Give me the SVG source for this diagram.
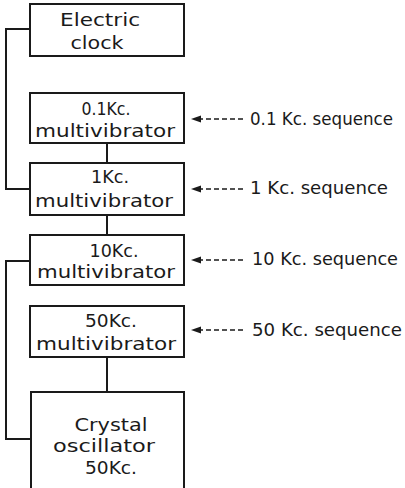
<svg xmlns="http://www.w3.org/2000/svg" width="405" height="488" viewBox="0 0 405 488">
<style>
.box{fill:#fff;stroke:#1a1a1a;stroke-width:2}
.wire{fill:none;stroke:#1a1a1a;stroke-width:2}
.dash{fill:none;stroke:#1a1a1a;stroke-width:1.6;stroke-dasharray:5 3}
.head{fill:#1a1a1a}
.t{font-family:"DejaVu Sans",sans-serif;font-size:18px;fill:#1a1a1a;text-anchor:middle}
.s{font-family:"DejaVu Sans",sans-serif;font-size:18px;fill:#1a1a1a}
</style>
<rect width="405" height="488" fill="#fff"/>
<g id="connectors">
<path class="wire" d="M30,29 H6 V189 H30"/>
<path class="wire" d="M30,261 H6 V439 H31"/>
<line class="wire" x1="107" y1="143" x2="107" y2="163"/>
<line class="wire" x1="107" y1="215" x2="107" y2="235"/>
<line class="wire" x1="107" y1="357" x2="107" y2="392"/>
<line class="dash" x1="243" y1="119" x2="200" y2="119"/>
<polygon class="head" points="191,119 201,115.5 201,122.5"/>
<line class="dash" x1="243" y1="189" x2="200" y2="189"/>
<polygon class="head" points="191,189 201,185.5 201,192.5"/>
<line class="dash" x1="243" y1="260" x2="200" y2="260"/>
<polygon class="head" points="191,260 201,256.5 201,263.5"/>
<line class="dash" x1="243" y1="330" x2="200" y2="330"/>
<polygon class="head" points="191,330 201,326.5 201,333.5"/>
</g>
<g id="clock">
<rect class="box" x="30" y="4" width="154" height="52"/>
<text class="t" x="100" y="26" textLength="80" lengthAdjust="spacingAndGlyphs">Electric</text>
<text class="t" x="97" y="49" textLength="53" lengthAdjust="spacingAndGlyphs">clock</text>
</g>
<g id="mv01">
<rect class="box" x="30" y="93" width="154" height="50"/>
<text class="t" x="106" y="115" textLength="49" lengthAdjust="spacingAndGlyphs">0.1Kc.</text>
<text class="t" x="105" y="137" textLength="140" lengthAdjust="spacingAndGlyphs">multivibrator</text>
</g>
<g id="mv1">
<rect class="box" x="30" y="163" width="154" height="52"/>
<text class="t" x="110" y="183" textLength="38" lengthAdjust="spacingAndGlyphs">1Kc.</text>
<text class="t" x="104" y="207" textLength="138" lengthAdjust="spacingAndGlyphs">multivibrator</text>
</g>
<g id="mv10">
<rect class="box" x="30" y="235" width="154" height="50"/>
<text class="t" x="114" y="257" textLength="49" lengthAdjust="spacingAndGlyphs">10Kc.</text>
<text class="t" x="106" y="278" textLength="138" lengthAdjust="spacingAndGlyphs">multivibrator</text>
</g>
<g id="mv50">
<rect class="box" x="30" y="306" width="154" height="51"/>
<text class="t" x="111" y="327" textLength="52" lengthAdjust="spacingAndGlyphs">50Kc.</text>
<text class="t" x="106" y="350" textLength="140" lengthAdjust="spacingAndGlyphs">multivibrator</text>
</g>
<g id="crystal">
<path class="wire" d="M31,490 V392 H184 V490"/>
<text class="t" x="111" y="431" textLength="73" lengthAdjust="spacingAndGlyphs">Crystal</text>
<text class="t" x="104" y="452" textLength="102" lengthAdjust="spacingAndGlyphs">oscillator</text>
<text class="t" x="111" y="474" textLength="52" lengthAdjust="spacingAndGlyphs">50Kc.</text>
</g>
<g id="labels">
<text class="s" x="250" y="125" textLength="143" lengthAdjust="spacingAndGlyphs">0.1 Kc. sequence</text>
<text class="s" x="250" y="194" textLength="138" lengthAdjust="spacingAndGlyphs">1 Kc. sequence</text>
<text class="s" x="252" y="265" textLength="146" lengthAdjust="spacingAndGlyphs">10 Kc. sequence</text>
<text class="s" x="252" y="336" textLength="150" lengthAdjust="spacingAndGlyphs">50 Kc. sequence</text>
</g>
</svg>
